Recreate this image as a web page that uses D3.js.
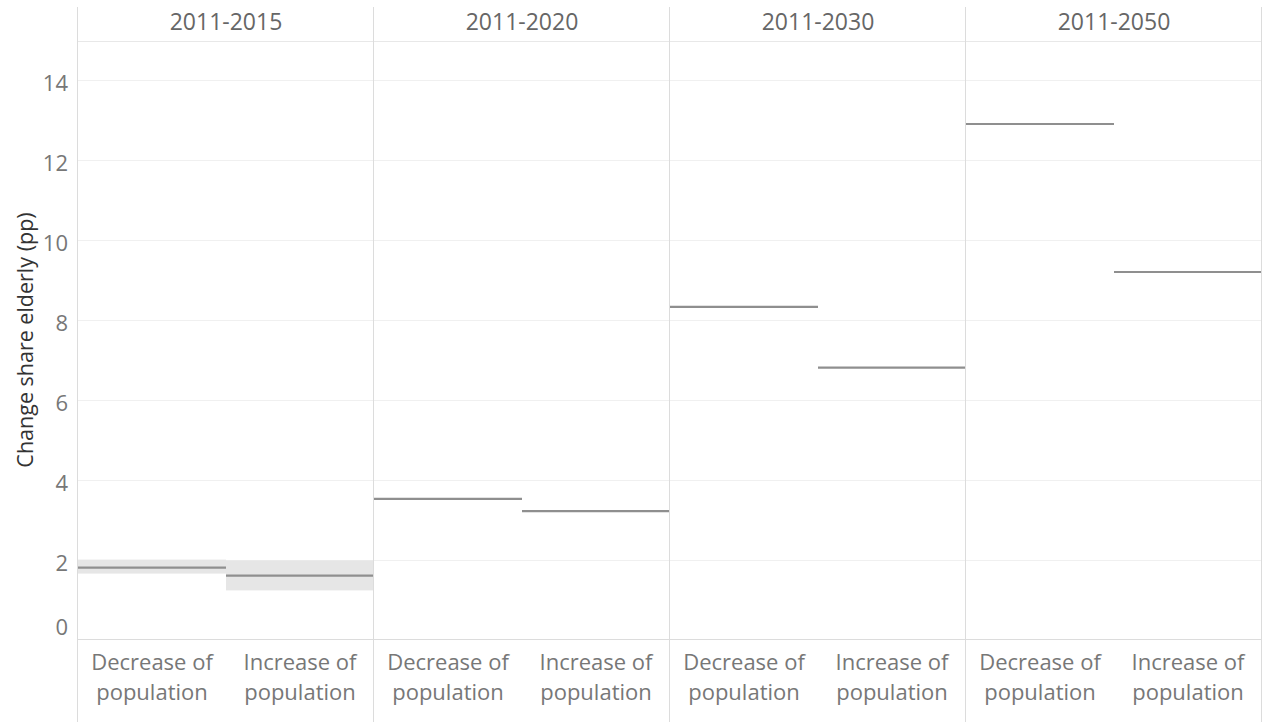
<!DOCTYPE html>
<html><head><meta charset="utf-8">
<script src="https://cdn.jsdelivr.net/npm/d3@7"></script>
<style>
html,body{margin:0;padding:0;background:#fff;}
svg{display:block;}
text{font-family:"Open Sans",Lato,sans-serif;}
</style></head>
<body><svg id="c" width="1263" height="722"></svg>
<script>
const periods = ["2011-2015","2011-2020","2011-2030","2011-2050"];
const groups = ["Decrease of population","Increase of population"];
const groupLines = [["Decrease of","population"],["Increase of","population"]];
const decreaseValues = [1.81, 3.53, 8.33, 12.9];
const increaseValues = [1.61, 3.22, 6.81, 9.2];
// uncertainty band (only visible for the first period)
const decreaseLow  = [1.66, null, null, null];
const decreaseHigh = [2.01, null, null, null];
const increaseLow  = [1.24, null, null, null];
const increaseHigh = [1.99, null, null, null];
const yTicks = [0,2,4,6,8,10,12,14];
const yTitle = "Change share elderly (pp)";

const svg = d3.select("#c");
const mLeft = 78, mRight = 1262, mTop = 40, mBottom = 640, headerTop = 7;
const FS = 21.5;

const x = d3.scaleBand().domain(periods).range([mLeft, mRight]).padding(0);
const xi = d3.scaleBand().domain(groups).range([0, x.bandwidth()]).padding(0);
const y = d3.scaleLinear().domain([0, 15]).range([mBottom, mTop]);

const rows = [];
periods.forEach((p,i)=>{
  rows.push({p, g:groups[0], v:decreaseValues[i], lo:decreaseLow[i], hi:decreaseHigh[i]});
  rows.push({p, g:groups[1], v:increaseValues[i], lo:increaseLow[i], hi:increaseHigh[i]});
});

// gridlines
svg.append("g").selectAll("line").data(yTicks.filter(d=>d>0)).join("line")
  .attr("x1", mLeft).attr("x2", mRight)
  .attr("y1", d=>y(d)+0.5).attr("y2", d=>y(d)+0.5)
  .attr("stroke", "#f0f0f0").attr("stroke-width", 1);

// header bottom line
svg.append("line").attr("x1", mLeft).attr("x2", mRight).attr("y1", 41.5).attr("y2", 41.5)
  .attr("stroke", "#e8e8e8");

// bands
svg.append("g").selectAll("rect").data(rows.filter(d=>d.lo!=null)).join("rect")
  .attr("x", d=>x(d.p)+xi(d.g)).attr("width", xi.bandwidth())
  .attr("y", d=>y(d.hi)).attr("height", d=>y(d.lo)-y(d.hi))
  .attr("fill", "#e6e6e6");

// value lines
svg.append("g").selectAll("line").data(rows).join("line")
  .attr("x1", d=>x(d.p)+xi(d.g)).attr("x2", d=>x(d.p)+xi(d.g)+xi.bandwidth())
  .attr("y1", d=>y(d.v)).attr("y2", d=>y(d.v))
  .attr("stroke", "#8f8f8f").attr("stroke-width", 2.2);

// bottom axis line
svg.append("line").attr("x1", mLeft).attr("x2", mRight).attr("y1", 639.5).attr("y2", 639.5)
  .attr("stroke", "#dcdcdc");

// panel dividers
const divs = periods.map(p=>x(p)).concat([mRight]);
svg.append("g").selectAll("line").data(divs).join("line")
  .attr("x1", d=>Math.round(d)-0.5).attr("x2", d=>Math.round(d)-0.5)
  .attr("y1", headerTop).attr("y2", 722)
  .attr("stroke", "#dcdcdc").attr("stroke-width", 1);

// header labels
svg.append("g").selectAll("text").data(periods).join("text")
  .attr("x", d=>x(d)+x.bandwidth()/2).attr("y", 30)
  .attr("text-anchor","middle")
  .attr("font-size", 23).attr("fill", "#666")
  .text(d=>d);

// y axis
const yAxis = d3.axisLeft(y).tickValues(yTicks).tickSize(0).tickPadding(10);
const ga = svg.append("g").attr("transform", `translate(${mLeft},1)`).call(yAxis);
ga.select(".domain").remove();
ga.selectAll("text").attr("font-size", 22).attr("fill", "#777").attr("dy","0.45em")
  .attr("font-family","'Open Sans',Lato,sans-serif");
ga.selectAll(".tick").filter(d=>d===0).select("text").attr("dy","-0.3em");

// y title
svg.append("text").attr("transform","translate(24,340) rotate(-90)")
  .attr("text-anchor","middle").attr("dominant-baseline","central")
  .attr("font-size", 21.5).attr("fill", "#333").text(yTitle);

// bottom category labels
const cat = svg.append("g").selectAll("text").data(rows).join("text")
  .attr("text-anchor","middle").attr("font-size", 22).attr("fill","#777");
cat.each(function(d){
  const lines = groupLines[groups.indexOf(d.g)];
  const cx = x(d.p)+xi(d.g)+xi.bandwidth()/2;
  d3.select(this).selectAll("tspan").data(lines).join("tspan")
    .attr("x", cx)
    .attr("y", (l,i)=>670+i*30).text(l=>l);
});
</script></body></html>
